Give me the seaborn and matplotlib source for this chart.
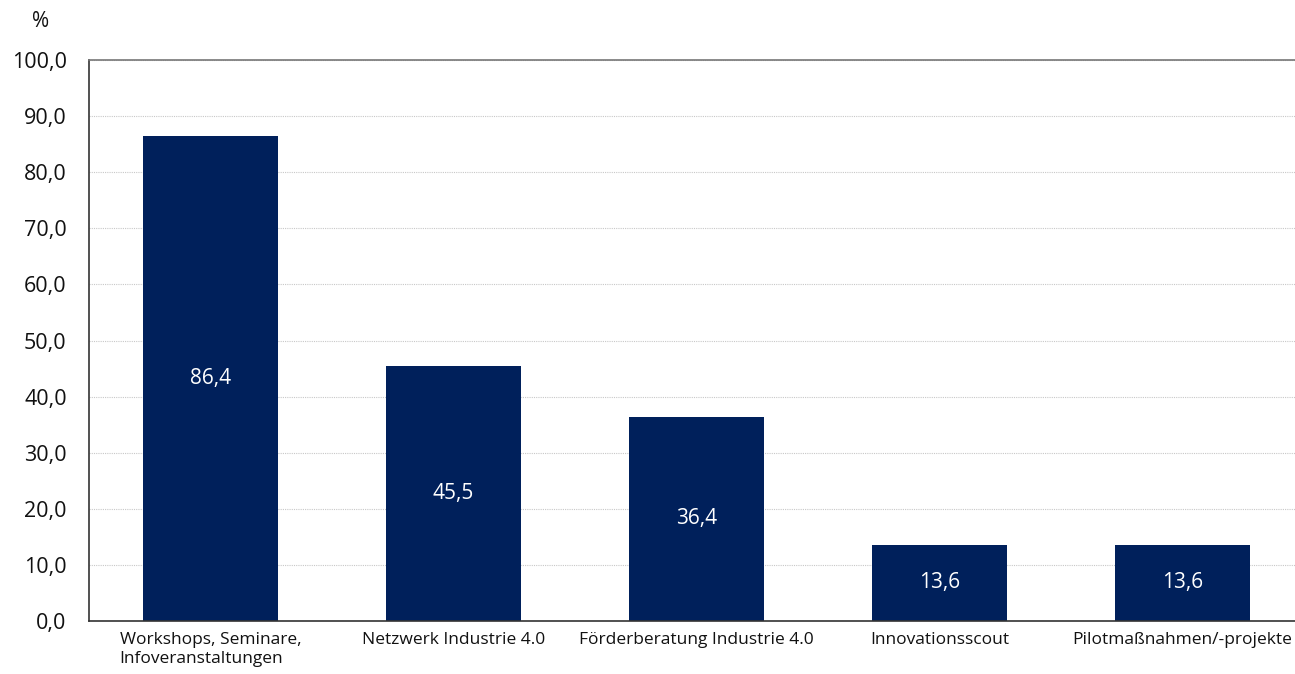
import matplotlib
matplotlib.use('Agg')
import matplotlib.pyplot as plt
import seaborn as sns
import pandas as pd
import numpy as np

categories = ['Workshops, Seminare,\nInfoveranstaltungen', 'Netzwerk Industrie 4.0',
              'Förderberatung Industrie 4.0', 'Innovationsscout', 'Pilotmaßnahmen/-projekte']
values = [86.4, 45.5, 36.4, 13.6, 13.6]
y_ticks = [0, 10, 20, 30, 40, 50, 60, 70, 80, 90, 100]

df = pd.DataFrame({'Kategorie': categories, 'Wert': values})

sns.set_style('white')
plt.rcParams['font.family'] = ['Open Sans', 'DejaVu Sans']

fig = plt.figure(figsize=(12.95, 6.74), dpi=100)
ax = fig.add_axes([0.0687, 0.0786, 0.9383, 0.8324])

sns.barplot(data=df, x='Kategorie', y='Wert', color='#00205b', width=0.556, ax=ax,
            saturation=1, linewidth=0)

ax.set_xlim(-0.5, 4.5)
ax.set_ylim(0, 100)
ax.set_yticks(y_ticks)
ax.set_yticklabels([f'{t:.1f}'.replace('.', ',') for t in y_ticks], fontsize=15.5, color='#111111')
ax.yaxis.grid(True, linestyle=(0, (1, 1)), color='#c8c8c8', linewidth=0.8)
ax.set_axisbelow(True)

# category labels centred, tick marks at category boundaries
ax.tick_params(axis='x', which='major', length=0, labelsize=12.5, pad=8, colors='#111111')
for lbl in ax.get_xticklabels():
    lbl.set_multialignment('left')
ax.set_xticks(np.arange(-0.5, 5, 1), minor=True)
ax.tick_params(axis='x', which='minor', length=5, width=1, color='#555555', direction='out')
ax.tick_params(axis='y', length=6, width=1, color='#555555', direction='out', pad=10)

ax.spines['right'].set_visible(False)
ax.spines['top'].set_color('#777777')
ax.spines['top'].set_linewidth(1.2)
for s in ['left', 'bottom']:
    ax.spines[s].set_color('#333333')
    ax.spines[s].set_linewidth(1.2)

for p, v in zip(ax.patches, values):
    ax.text(p.get_x() + p.get_width() / 2, v / 2, f'{v:.1f}'.replace('.', ','),
            ha='center', va='center', color='white', fontsize=15)

ax.set_xlabel('')
ax.set_ylabel('')
fig.text(0.031, 0.968, '%', fontsize=15, ha='center', va='center', color='#111111')

fig.savefig('out.png', dpi=100)
